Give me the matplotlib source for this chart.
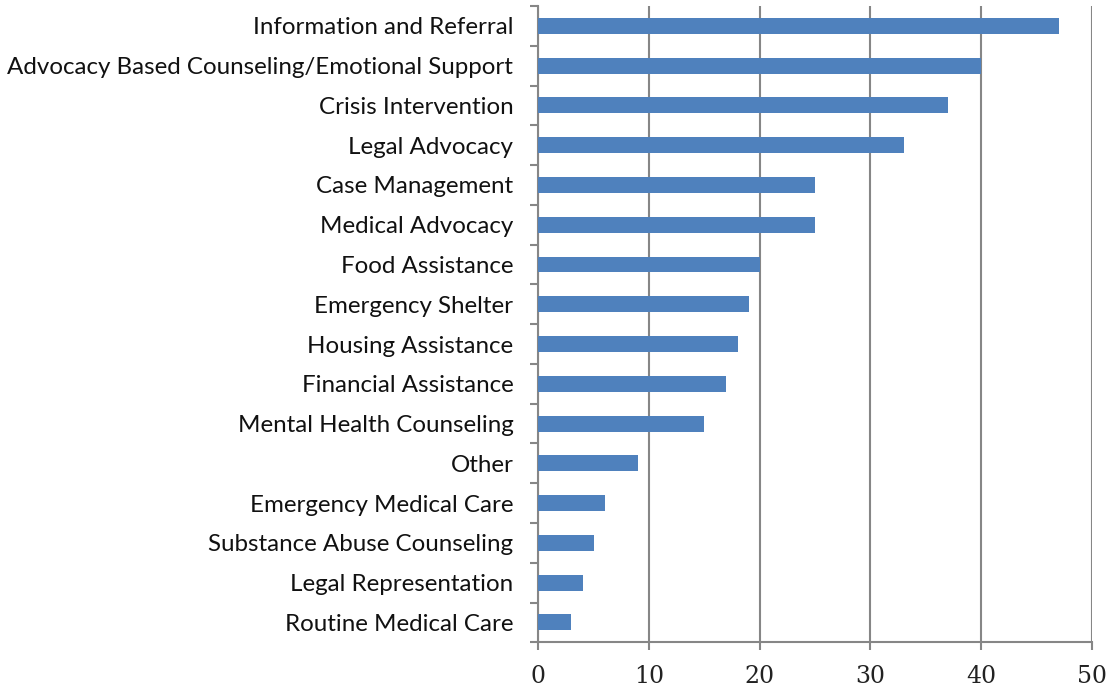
import numpy as np
import matplotlib.pyplot as plt
from matplotlib.ticker import FixedLocator

# services, top to bottom as shown
services = [
    "Information and Referral",
    "Advocacy Based Counseling/Emotional Support",
    "Crisis Intervention",
    "Legal Advocacy",
    "Case Management",
    "Medical Advocacy",
    "Food Assistance",
    "Emergency Shelter",
    "Housing Assistance",
    "Financial Assistance",
    "Mental Health Counseling",
    "Other",
    "Emergency Medical Care",
    "Substance Abuse Counseling",
    "Legal Representation",
    "Routine Medical Care",
]
counts = [47, 40, 37, 33, 25, 25, 20, 19, 18, 17, 15, 9, 6, 5, 4, 3]
x_ticks = [0, 10, 20, 30, 40, 50]

grey = "#868686"
bar_col = "#4F81BD"

fig = plt.figure(figsize=(11.11, 6.92), dpi=100)
ax = fig.add_axes([0.4845, 0.0718, 0.4982, 0.9195])

n = len(services)
ypos = np.arange(n)[::-1]
ax.barh(ypos, counts, height=0.4, color=bar_col, zorder=3)

ax.set_xlim(0, 50)
ax.set_ylim(-0.5, n - 0.5)

ax.set_xticks(x_ticks)
ax.set_xticklabels([str(t) for t in x_ticks], family="DejaVu Serif", fontsize=17, color="#222222")
ax.set_yticks(ypos)
ax.set_yticklabels(services, family="Lato", fontsize=17.4, color="#111111")
ax.yaxis.set_minor_locator(FixedLocator(np.arange(-0.5, n, 1.0)))

ax.tick_params(axis="y", which="major", length=0, pad=18)
ax.tick_params(axis="y", which="minor", length=6, width=1.5, color=grey, direction="out")
ax.tick_params(axis="x", which="major", length=6, width=1.5, color=grey, direction="out", pad=10)

ax.grid(axis="x", color=grey, linewidth=1.5, zorder=0)
for s in ["top", "right"]:
    ax.spines[s].set_visible(False)
for s in ["left", "bottom"]:
    ax.spines[s].set_color(grey)
    ax.spines[s].set_linewidth(1.5)

fig.savefig("out.png", dpi=100)
